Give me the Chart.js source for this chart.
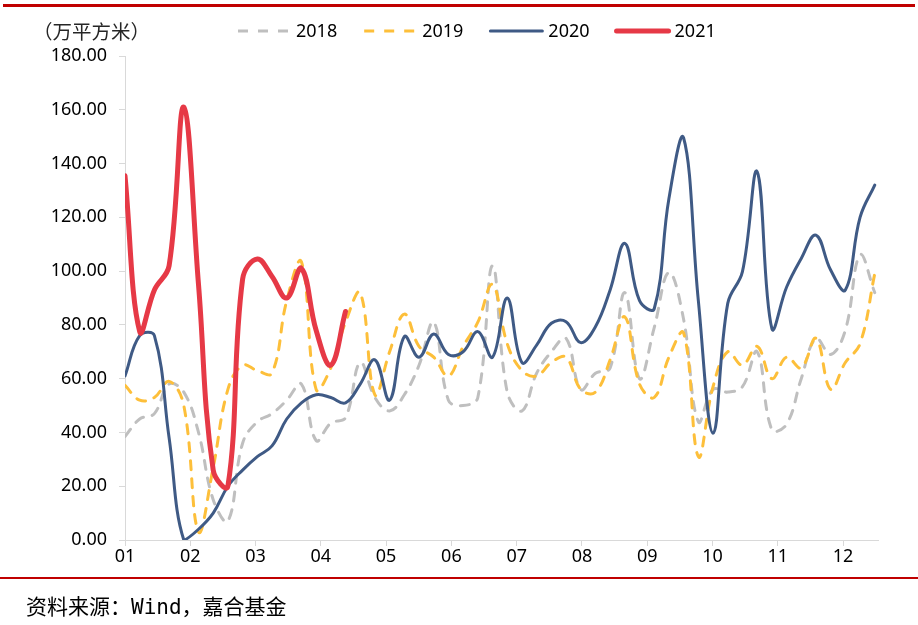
<!DOCTYPE html>
<html>
<head>
<meta charset="utf-8">
<script src="https://cdn.jsdelivr.net/npm/chart.js@4.4.1/dist/chart.umd.min.js"></script>
<style>
  html, body { margin: 0; padding: 0; background: #fff; }
  #wrap { position: relative; width: 918px; height: 625px; overflow: hidden; background: #fff; }
  #c { position: absolute; left: 0; top: 0; }
  .rule { position: absolute; background: #C00000; }
  #unit { position: absolute; left: 33px; top: 16px; font: 19.5px "Noto Sans CJK SC", sans-serif; color: #262626; white-space: nowrap; }
  #src { position: absolute; left: 26px; top: 590px; font: 21px "DejaVu Sans Mono", "Noto Sans CJK SC", monospace; color: #000; white-space: nowrap; }
</style>
</head>
<body>
<div id="wrap">
  <canvas id="c" width="918" height="625"></canvas>
  <div class="rule" style="left:3px;top:4px;width:912px;height:3px;"></div>
  <div id="unit">（万平方米）</div>
  <div class="rule" style="left:0;top:577px;width:918px;height:2px;"></div>
  <div id="src">资料来源：Wind，嘉合基金</div>
</div>
<script>
// ---- data (weekly readings, 万平方米) ----
const monthLabels = ['01','02','03','04','05','06','07','08','09','10','11','12'];
const yTickValues = [0, 20, 40, 60, 80, 100, 120, 140, 160, 180];
const seriesNames = ['2018', '2019', '2020', '2021'];

const s2018 = [38.5,45,47,58,55,40,15,7,36,44,47,52,58,37,43.5,45.5,66,53,48,54,65,81,52,50,53,102,55,48,62,70,75,56,62,64,92,60,79,99.5,82,44,56,55,57,70,41,43,60,75,69,78,106,92];
const s2019 = [57.5,52,53,59,50,3,27,56,65,63,62,89,103.5,56,64,81,92,54,70,84,72,68,61,72,81,95,73,63,61,66,68,56,55,67,83,58,53,68,77,31,57,70,65,72,60,68,64,75,56,66,73,99];
const s2020 = [61,76,76,38,0,4,10,20,26,31,35,45,51,54,53,51,58,67,52,75.6,68,76.6,69,70,77.5,68,90,66,72.5,80.6,81.2,73.4,79.3,93,110.3,89,86,127,149.5,89,39.7,88,99.8,137,78.7,94,104.7,113.4,100.4,93,120,132];
const s2021 = [135.5,77.5,93,102,161,95,26,20,97,104.5,98,90,101,78,65,85];

// one reading per week; axis measured in months (month 1 = "01")
const WEEK_IN_MONTHS = 0.2252;
const X_MAX = 12.535;
const toPoints = arr => arr.map((v, i) => ({ x: 1 + i * WEEK_IN_MONTHS, y: v }));

const styles = [
  { color: '#BFBFBF', width: 3, dash: [9, 9], order: 3 },
  { color: '#FDBF3A', width: 3, dash: [9, 9], order: 2 },
  { color: '#3F5A85', width: 3, dash: [], order: 1 },
  { color: '#E63946', width: 5, dash: [], order: 0 }
];
const allSeries = [s2018, s2019, s2020, s2021];

const datasets = allSeries.map((s, k) => ({
  label: seriesNames[k],
  data: toPoints(s),
  borderColor: styles[k].color,
  backgroundColor: styles[k].color,
  borderWidth: styles[k].width,
  borderDash: styles[k].dash,
  borderCapStyle: 'round',
  borderJoinStyle: 'round',
  order: styles[k].order,
  pointRadius: 0,
  pointHoverRadius: 0,
  tension: 0.4,
  fill: false
}));

const FONT = '"Noto Sans", "Open Sans", sans-serif';

const legendPlugin = {
  id: 'customLegend',
  afterDraw(chart) {
    const ctx = chart.ctx;
    ctx.save();
    ctx.font = '18px ' + FONT;
    ctx.textBaseline = 'middle';
    ctx.fillStyle = '#000';
    let x = 238;
    const y = 31;
    chart.data.datasets.forEach(ds => {
      const dashed = ds.borderDash && ds.borderDash.length;
      ctx.save();
      ctx.strokeStyle = ds.borderColor;
      ctx.lineWidth = ds.borderWidth;
      ctx.lineCap = dashed ? 'butt' : 'round';
      ctx.setLineDash(dashed ? [10, 10] : []);
      ctx.beginPath();
      ctx.moveTo(x, y);
      ctx.lineTo(x + 52, y);
      ctx.stroke();
      ctx.restore();
      ctx.fillText(ds.label, x + 58, y + 1);
      x += 58 + ctx.measureText(ds.label).width + 27;
    });
    ctx.restore();
  }
};

new Chart(document.getElementById('c'), {
  type: 'line',
  data: { datasets },
  plugins: [legendPlugin],
  options: {
    responsive: false,
    devicePixelRatio: 1,
    animation: false,
    events: [],
    layout: { padding: { left: 0, right: 40, top: 56, bottom: 55 } },
    plugins: { legend: { display: false }, tooltip: { enabled: false } },
    scales: {
      x: {
        type: 'linear',
        min: 1,
        max: X_MAX,
        afterFit(scale) { scale.height = 30; },
        afterBuildTicks(scale) { scale.ticks = monthLabels.map((l, i) => ({ value: i + 1 })); },
        ticks: {
          autoSkip: false,
          maxRotation: 0,
          padding: 0,
          color: '#000',
          font: { family: FONT, size: 18 },
          callback: (v) => monthLabels[Math.round(v) - 1]
        },
        grid: { drawOnChartArea: false, drawTicks: true, tickLength: 6, color: '#D9D9D9', lineWidth: 1 },
        border: { display: true, color: '#D9D9D9', width: 1 }
      },
      y: {
        min: 0,
        max: 180,
        afterFit(scale) { scale.width = 125; },
        afterBuildTicks(scale) { scale.ticks = yTickValues.map(v => ({ value: v })); },
        ticks: {
          padding: 12,
          color: '#000',
          font: { family: FONT, size: 18 },
          callback: (v) => Number(v).toFixed(2)
        },
        grid: { drawOnChartArea: false, drawTicks: true, tickLength: 6, color: '#D9D9D9', lineWidth: 1 },
        border: { display: true, color: '#D9D9D9', width: 1 }
      }
    }
  }
});
</script>
</body>
</html>
